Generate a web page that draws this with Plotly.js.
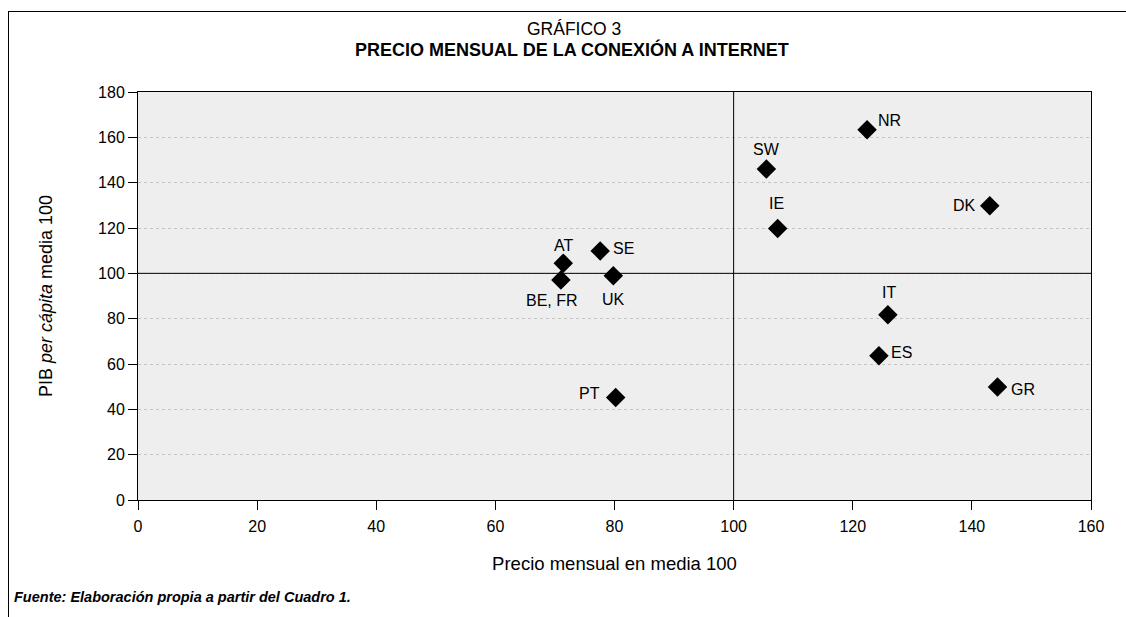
<!DOCTYPE html>
<html><head><meta charset="utf-8">
<script src="https://cdn.plot.ly/plotly-3.0.1.min.js"></script>
<style>
html,body{margin:0;padding:0;overflow:hidden;background:#fff;}
#wrap{position:relative;width:1126px;height:617px;}
#chart{position:absolute;left:0;top:0;width:1126px;height:617px;}
#frame{position:absolute;left:8px;top:11px;width:1120px;height:700px;border:1.5px solid #000;pointer-events:none;}
</style></head>
<body><div id="wrap"><div id="chart"></div><div id="frame"></div></div>
<script>
const countries = ["AT","BE, FR","SE","UK","PT","SW","IE","NR","DK","IT","ES","GR"];
const precio = [71.4, 71.0, 77.6, 79.8, 80.2, 105.5, 107.4, 122.4, 143.0, 125.9, 124.4, 144.3];
const pib = [104.5, 97.1, 109.9, 98.9, 45.2, 146.0, 119.8, 163.3, 129.8, 81.7, 63.6, 49.8];
const xTicks = [0,20,40,60,80,100,120,140,160];
const yTicks = [0,20,40,60,80,100,120,140,160,180];
const refValue = 100;
// label offsets in pixels (style only)
const labelDx = [0, -9, 23, 0, -26, 0, -1, 22, -25, 1, 23, 26];
const labelDy = [18, -21, 2, -24, 4, 20, 25, 9, 0, 22, 3, -2];

const font = "Liberation Sans, Arial, sans-serif";
const trace = {
  type: "scatter", mode: "markers",
  x: precio, y: pib,
  marker: {symbol: "diamond", size: 15, color: "#000"},
  cliponaxis: false, hoverinfo: "skip"
};
const labelAnns = countries.map((c, i) => ({
  text: c, xref: "x", yref: "y", x: precio[i], y: pib[i],
  xanchor: "center", yanchor: "middle", showarrow: false,
  xshift: labelDx[i], yshift: labelDy[i],
  font: {family: font, size: 16, color: "#000"}
}));
const plotW = 1126 - 138 - 35, plotH = 617 - 92 - 117;
const layout = {
  width: 1126, height: 617,
  margin: {l: 138, r: 35, t: 92, b: 117},
  paper_bgcolor: "#fff", plot_bgcolor: "#eeeeee",
  showlegend: false,
  font: {family: font, size: 16, color: "#000"},
  xaxis: {range: [0,160], tickvals: xTicks, ticks: "outside", ticklen: 9, tickcolor: "#000",
    ticklabelstandoff: 3,
    showline: true, linecolor: "#000", linewidth: 1, mirror: true, showgrid: false, zeroline: false,
    tickfont: {family: font, size: 16},
    title: {text: "Precio mensual en media 100", font: {family: font, size: 18.5}, standoff: 22}},
  yaxis: {range: [0,180], tickvals: yTicks, ticks: "outside", ticklen: 9, tickcolor: "#000",
    showline: true, linecolor: "#000", linewidth: 1, mirror: true, showgrid: true,
    gridcolor: "#c4c4c4", griddash: "dot", gridwidth: 1, zeroline: false,
    tickfont: {family: font, size: 16},
    title: {text: "PIB <i>per cápita</i> media 100", font: {family: font, size: 18}, standoff: 40}},
  shapes: [
    {type: "line", xref: "x", yref: "y", x0: refValue, x1: refValue, y0: 0, y1: 180, line: {color: "#000", width: 1}},
    {type: "line", xref: "x", yref: "y", x0: 0, x1: 160, y0: refValue, y1: refValue, line: {color: "#000", width: 1}}
  ],
  annotations: [
    {text: "GRÁFICO 3", xref: "paper", yref: "paper", x: (574 - 138) / plotW, y: 1 + (92 - 29) / plotH, xanchor: "center", yanchor: "middle", showarrow: false, font: {family: font, size: 17.5}},
    {text: "<b>PRECIO MENSUAL DE LA CONEXIÓN A INTERNET</b>", xref: "paper", yref: "paper", x: (572 - 138) / plotW, y: 1 + (92 - 50) / plotH, xanchor: "center", yanchor: "middle", showarrow: false, font: {family: font, size: 18}},
    {text: "<b><i>Fuente: Elaboración propia a partir del Cuadro 1.</i></b>", xref: "paper", yref: "paper", x: (12 - 138) / plotW, y: -(597 - 500) / plotH, xanchor: "left", yanchor: "middle", showarrow: false, font: {family: font, size: 14.5}}
  ].concat(labelAnns)
};
Plotly.newPlot("chart", [trace], layout, {displayModeBar: false, staticPlot: true});
</script></body></html>
